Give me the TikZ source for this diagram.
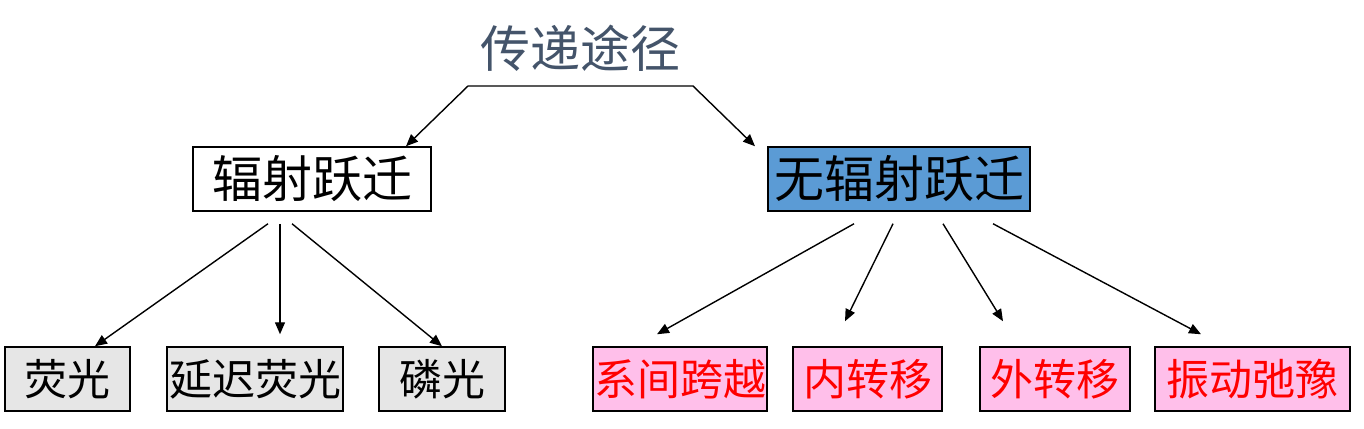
\documentclass[tikz,border=0pt]{standalone}
\usepackage{fontspec}
\newfontfamily\cjk{Noto Sans CJK SC}
\usetikzlibrary{arrows.meta,calc}
\definecolor{titlecol}{HTML}{44546A}
\definecolor{bluefill}{HTML}{5B9BD5}
\definecolor{pinkfill}{HTML}{FFBFEA}
\definecolor{grayfill}{HTML}{E6E6E6}
\definecolor{redtext}{HTML}{FF0000}
\tikzset{
  box/.style={draw=black, line width=1.5pt, inner sep=0pt, minimum height=64pt, font=\cjk\fontsize{50}{54}\selectfont},
  topbox/.style={box},
  lowgray/.style={box, fill=grayfill, font=\cjk\fontsize{43}{48}\selectfont},
  lowpink/.style={box, fill=pinkfill, text=redtext, font=\cjk\fontsize{43}{48}\selectfont},
  arr/.style={line width=1.4pt, -{Triangle[length=12pt,width=10pt]}},
  arrboth/.style={line width=1.4pt, {Triangle[length=12pt,width=10pt]}-{Triangle[length=12pt,width=10pt]}}
}
\begin{document}
\begin{tikzpicture}[x=1pt,y=-1pt]
\useasboundingbox (0,0) rectangle (1364,428);
\node[font=\cjk\fontsize{50}{54}\selectfont, text=titlecol] (title) at (580,48) {传递途径};
\node[topbox, minimum width=238pt, fill=white] (rad) at (312,179) {辐射跃迁};
\node[topbox, minimum width=262pt, fill=bluefill] (nonrad) at (899,179) {无辐射跃迁};
\node[lowgray, minimum width=125pt] (fl) at (67.5,379) {荧光};
\node[lowgray, minimum width=176pt] (dfl) at (255,379) {延迟荧光};
\node[lowgray, minimum width=126pt] (ph) at (442,379) {磷光};
\node[lowpink, minimum width=174pt] (isc) at (680,379) {系间跨越};
\node[lowpink, minimum width=149pt] (ic) at (867.5,379) {内转移};
\node[lowpink, minimum width=150pt] (ec) at (1055,379) {外转移};
\node[lowpink, minimum width=195pt] (vr) at (1252.5,379) {振动弛豫};
\coordinate (tl) at (468,86);
\coordinate (tr) at (693,86);
\draw[arrboth] ($(rad.north)+(94,0)$) -- (tl) -- (tr) -- ($(nonrad.north)+(-144,0)$);
\draw[arr] ($(rad.south)+(-44,12)$) -- ($(fl.north)+(27.5,0)$);
\draw[arr] ($(rad.south)+(-32,12)$) -- ($(dfl.north)+(25,-12)$);
\draw[arr] ($(rad.south)+(-20,12)$) -- ($(ph.north)+(0,0)$);
\draw[arr] ($(nonrad.south)+(-45,12)$) -- ($(isc.north)+(-23,-12)$);
\draw[arr] ($(nonrad.south)+(-6,12)$) -- ($(ic.north)+(-22.5,-25)$);
\draw[arr] ($(nonrad.south)+(44,12)$) -- ($(ec.north)+(-52,-25)$);
\draw[arr] ($(nonrad.south)+(94,12)$) -- ($(vr.north)+(-51.5,-12)$);
\end{tikzpicture}
\end{document}
